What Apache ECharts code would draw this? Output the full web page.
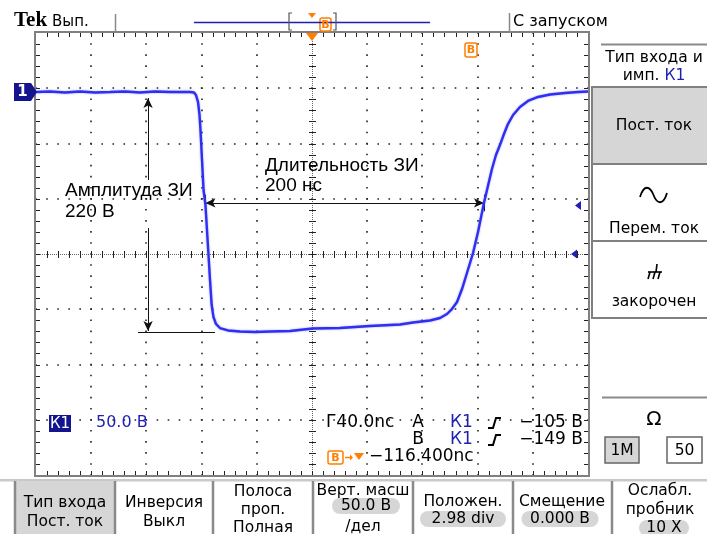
<!DOCTYPE html>
<html>
<head>
<meta charset="utf-8">
<title>Tek</title>
<script src="https://cdn.jsdelivr.net/npm/echarts@6.0.0/dist/echarts.min.js"></script>
<style>
html,body{margin:0;padding:0;background:#fff;}
#chart{width:707px;height:534px;}
</style>
</head>
<body>
<div id="chart"></div>
<script>
const timeNs = [0,10.1,21.0,31.9,42.8,53.6,64.5,75.4,86.2,97.1,105.8,111.6,114.5,115.9,117.4,118.5,119.2,120.3,121.4,122.8,123.9,125.0,126.1,127.3,128.6,130.4,133.3,139.1,147.8,158.7,169.6,184.1,200.7,220.3,242.0,263.8,273.2,285.5,292.8,297.8,301.4,305.1,308.7,312.3,316.7,320.3,324.6,327.5,330.4,333.3,336.2,339.1,342.0,345.7,350.7,356.5,363.8,372.5,383.3,392.8,400];
const volts = [-2.4,-1.9,-2.8,-1.9,-2.8,-2.4,-1.9,-2.8,-1.9,-2.4,-2.4,-2.4,-2.8,-5.1,-11.4,-23.2,-36.8,-63.9,-91.1,-104.7,-127.3,-149.9,-172.5,-195.2,-206.0,-212.3,-216.0,-218.2,-219.1,-219.6,-219.1,-218.7,-216.4,-216.0,-214.2,-212.8,-211.0,-209.2,-206.9,-203.3,-198.8,-192.4,-180.7,-166.2,-148.1,-129.1,-102.8,-87.5,-72.1,-59.4,-50.4,-40.4,-31.4,-23.2,-16.0,-10.5,-6.9,-4.7,-3.3,-2.4,-1.9];
const nsPerDiv = 40;
const voltsPerDiv = 50;
const groundPosDiv = 2.98;
const trigLevels = [-105, -149];
// annotation arrows (data units)
const durationNs = [122.8, 324.6];
const durationLevelV = -102.8;
const amplitudeAtNs = 81.2;
const amplitudeV = [-7.8, -82, -125.5, -218.7];
const amplitudeBaseNs = [73.9, 129.7];
const amplitudeBaseV = -219.6;

const NAVY = '#14148e', BLUE = '#1f1fb4', TRACE = '#2f2ff0', ORANGE = '#ff7f00';
const BTN = '#d6d6d6', BORDER = '#808080';
const UI = '"DejaVu Sans", sans-serif';

const vMin = (-4 - groundPosDiv) * voltsPerDiv;
const vMax = (4 - groundPosDiv) * voltsPerDiv;

function renderGraticule(params, api) {
  const a = api.coord([-5, 4]), b = api.coord([5, -4]);
  const L = a[0], T = a[1], R = b[0], B = b[1];
  const dx = (R - L) / 10, dy = (B - T) / 8;
  const kids = [];
  const px = v => Math.round(v) + 0.5;
  const seg = (x1, y1, x2, y2, c) => kids.push({type:'line', shape:{x1, y1, x2, y2}, style:{stroke:c, lineWidth:1}});
  const dotted = (x1, y1, x2, y2, step) => kids.push({type:'line', shape:{x1, y1, x2, y2},
    style:{stroke:'#222', lineWidth:1.6, lineDash:[1.6, step - 1.6], lineDashOffset:0.8, lineCap:'butt'}});
  for (let i = 1; i < 10; i++) { if (i === 5) continue; const x = Math.round(L + i * dx); dotted(x, T, x, B, dy / 5); }
  for (let k = 1; k < 8; k++) { if (k === 4) continue; const y = Math.round(T + k * dy); dotted(L, y, R, y, dx / 5); }
  const cx = px(L + 5 * dx), cy = px(T + 4 * dy);
  kids.push({type:'line', shape:{x1:cx, y1:T, x2:cx, y2:B}, style:{stroke:'#666', lineWidth:1, lineDash:[1, 1]}});
  kids.push({type:'line', shape:{x1:L, y1:cy, x2:R, y2:cy}, style:{stroke:'#666', lineWidth:1, lineDash:[1, 1]}});
  for (let j = 1; j < 40; j++) { const y = px(T + j * dy / 5); seg(cx - 3.5, y, cx + 3.5, y, '#222'); }
  for (let j = 1; j < 50; j++) { const x = px(L + j * dx / 5); seg(x, cy - 3.5, x, cy + 3.5, '#222'); }
  for (let j = 1; j < 50; j++) { const x = px(L + j * dx / 5); seg(x, T, x, T + 4, '#222'); seg(x, B - 4, x, B, '#222'); }
  for (let j = 1; j < 40; j++) { const y = px(T + j * dy / 5); seg(L, y, L + 4, y, '#222'); seg(R - 4, y, R, y, '#222'); }
  kids.push({type:'rect', shape:{x:L - 1, y:T - 1, width:R - L + 2, height:B - T + 2}, style:{fill:'none', stroke:BORDER, lineWidth:2}});
  return {type:'group', children:kids};
}

const chart = echarts.init(document.getElementById('chart'), null, {renderer:'canvas'});

const lineEnd = (t, v, sym) => ({coord:[t, v], symbol:sym || 'none'});
const markData = [
  [lineEnd(durationNs[0], durationLevelV, 'arrow'), lineEnd(durationNs[1], durationLevelV, 'arrow')],
  [lineEnd(durationNs[0], durationLevelV + 7.5), lineEnd(durationNs[0], durationLevelV - 7.5)],
  [lineEnd(durationNs[1], durationLevelV + 7.5), lineEnd(durationNs[1], durationLevelV - 7.5)],
  [lineEnd(amplitudeAtNs, amplitudeV[1]), lineEnd(amplitudeAtNs, amplitudeV[0], 'arrow')],
  [lineEnd(amplitudeAtNs, amplitudeV[2]), lineEnd(amplitudeAtNs, amplitudeV[3], 'arrow')],
  [lineEnd(amplitudeBaseNs[0], amplitudeBaseV), lineEnd(amplitudeBaseNs[1], amplitudeBaseV)]
];

chart.setOption({
  animation:false,
  backgroundColor:'#fff',
  grid:{left:36, top:33, width:552, height:442, show:false},
  xAxis:[
    {type:'value', gridIndex:0, min:0, max:10 * nsPerDiv, show:false},
    {type:'value', gridIndex:0, min:-5, max:5, show:false}
  ],
  yAxis:[
    {type:'value', gridIndex:0, min:vMin, max:vMax, show:false},
    {type:'value', gridIndex:0, min:-4, max:4, show:false}
  ],
  series:[
    {type:'custom', xAxisIndex:1, yAxisIndex:1, data:[[0, 0]], silent:true, z:1, renderItem:renderGraticule},
    {type:'line', xAxisIndex:0, yAxisIndex:0, z:5, silent:true, showSymbol:false, symbol:'none',
     data:timeNs.map((t, i) => [t, volts[i]]),
     lineStyle:{color:TRACE, width:2.4, shadowColor:'rgba(90,90,255,0.6)', shadowBlur:2},
     markLine:{silent:true, symbol:['none', 'none'], symbolSize:[7, 10], label:{show:false},
       lineStyle:{color:'#111', width:1, type:'solid'}, emphasis:{disabled:true}, data:markData}
    }
  ]
});

// ---------- screen furniture ----------
function T(x, y, text, o) {
  o = o || {};
  const al = o.align || 'center';
  return {type:'text', x, y, z:o.z || 50, silent:true,
    style:{text, font:o.font || ('15.5px ' + UI), fill:o.fill || '#000', textAlign:al, align:al,
      textVerticalAlign:'middle', verticalAlign:'middle', rich:o.rich}};
}
function R(x, y, w, h, fill, stroke, lw, r) {
  return {type:'rect', z:40, silent:true, shape:{x, y, width:w, height:h, r:r || 0}, style:{fill:fill || 'none', stroke:stroke || null, lineWidth:lw || 1}};
}
function Ln(x1, y1, x2, y2, c, w) {
  return {type:'line', z:45, silent:true, shape:{x1, y1, x2, y2}, style:{stroke:c, lineWidth:w || 1}};
}
function PL(points, c, w) { return {type:'polyline', z:45, silent:true, shape:{points}, style:{stroke:c, lineWidth:w || 1, fill:null}}; }
function PG(points, c) { return {type:'polygon', z:46, silent:true, shape:{points}, style:{fill:c}}; }
function bBox(x, y, w, h) {
  return [R(x, y, w, h, '#fff', ORANGE, 1.5, 2), T(x + w / 2, y + h / 2 + 0.5, 'B', {font:'bold 11px ' + UI, fill:ORANGE, z:51})];
}
function edge(x, y) { return PL([[x, y + 5], [x + 5, y + 5], [x + 8, y - 5], [x + 13, y - 5]], '#000', 2); }

const yTrig = trigLevels.map(v => chart.convertToPixel({yAxisIndex:0}, v));
const xTrig = chart.convertToPixel({xAxisIndex:1}, 0);

const g = [];
// top status line
g.push(T(14, 21, 'Tek', {font:'bold 21px "Liberation Serif"', align:'left'}));
g.push(T(52, 22, 'Вып.', {font:'15px ' + UI, align:'left'}));
g.push(Ln(115.5, 14, 115.5, 33, '#8a8a8a', 1.5));
g.push(Ln(194, 22.5, 430, 22.5, BLUE, 1.5));
g.push(PL([[292, 13], [289, 13], [289, 30], [292, 30]], '#555', 1.2));
g.push(PL([[333, 13], [336, 13], [336, 30], [333, 30]], '#555', 1.2));
g.push(PG([[xTrig - 4, 13], [xTrig + 4, 13], [xTrig, 18]], ORANGE));
g.push(...bBox(320, 18, 11, 13));
g.push(Ln(509.5, 13, 509.5, 33, '#8a8a8a', 1.5));
g.push(T(513, 22, 'С запуском', {font:'16px ' + UI, align:'left'}));
// trigger position + delay markers
g.push(PG([[xTrig - 6, 33], [xTrig + 6, 33], [xTrig, 41]], ORANGE));
g.push(...bBox(465, 43, 12, 14));
// channel 1 ground marker
g.push(PG([[14, 83], [31, 83], [37, 92], [31, 101], [14, 101]], NAVY));
g.push(T(22.5, 92.5, '1', {font:'bold 15px ' + UI, fill:'#fff', z:52}));
// trigger level markers
g.push(PG([[575, yTrig[0]], [581, yTrig[0] - 4.5], [581, yTrig[0] + 4.5]], BLUE));
g.push(PG([[571, yTrig[1]], [577, yTrig[1] - 4.5], [577, yTrig[1] + 4.5]], BLUE));
// annotations
g.push(T(265, 166, 'Длительность ЗИ', {font:'19px "Liberation Sans"', align:'left'}));
g.push(T(265, 186, '200 нс', {font:'19px "Liberation Sans"', align:'left'}));
g.push(T(65, 191, 'Амплитуда ЗИ', {font:'19px "Liberation Sans"', align:'left'}));
g.push(T(65, 212, '220 В', {font:'19px "Liberation Sans"', align:'left'}));
// readouts inside graticule
g.push(R(49, 415, 22, 17, NAVY));
g.push(T(60, 424, 'К1', {font:'15px ' + UI, fill:'#fff', z:52}));
g.push(T(96, 423, '50.0 В', {font:'16px ' + UI, fill:BLUE, align:'left'}));
g.push(T(326, 423, 'Г40.0nc', {font:'17px ' + UI, align:'left'}));
g.push(T(418, 423, 'A', {font:'17px ' + UI}));
g.push(T(450, 423, 'К1', {font:'17px ' + UI, fill:BLUE, align:'left'}));
g.push(edge(488, 423));
g.push(T(583, 423, '−105 В', {font:'17px ' + UI, align:'right'}));
g.push(T(418, 440, 'B', {font:'17px ' + UI}));
g.push(T(450, 440, 'К1', {font:'17px ' + UI, fill:BLUE, align:'left'}));
g.push(edge(488, 440));
g.push(T(583, 440, '−149 В', {font:'17px ' + UI, align:'right'}));
g.push(...bBox(328, 451, 15, 13));
g.push(Ln(345, 457.5, 352, 457.5, ORANGE, 1.5));
g.push(PG([[350, 454.5], [353, 457.5], [350, 460.5]], ORANGE));
g.push(PG([[354, 453], [364, 453], [359, 460]], ORANGE));
g.push(T(369, 457, '−116.400nc', {font:'17px ' + UI, align:'left'}));
// right side menu
g.push(Ln(601, 44.5, 707, 44.5, '#8a8a8a', 2));
g.push(T(654, 58, 'Тип входа и', {}));
g.push(T(654, 76, '{a|имп. }{b|К1}', {rich:{a:{font:'15.5px ' + UI, fill:'#000'}, b:{font:'15.5px ' + UI, fill:BLUE}}}));
g.push(R(592, 87, 118, 77, BTN, BORDER, 2));
g.push(T(654, 126, 'Пост. ток', {}));
g.push(R(592, 164, 118, 77, '#fff', BORDER, 2));
g.push({type:'bezierCurve', z:45, silent:true, shape:{x1:640, y1:197, cpx1:644, cpy1:184, cpx2:650, cpy2:186, x2:653.5, y2:195}, style:{stroke:'#000', lineWidth:1.8, fill:null}});
g.push({type:'bezierCurve', z:45, silent:true, shape:{x1:653.5, y1:195, cpx1:657, cpy1:204, cpx2:663, cpy2:206, x2:667, y2:193}, style:{stroke:'#000', lineWidth:1.8, fill:null}});
g.push(T(654, 229, 'Перем. ток', {}));
g.push(R(592, 241, 118, 77, '#fff', BORDER, 2));
g.push(Ln(648, 272, 662, 272, '#000', 1.6));
g.push(Ln(657, 264, 656, 272, '#000', 1.6));
g.push(Ln(650, 272, 648, 279, '#000', 1.6));
g.push(Ln(655, 272, 653, 279, '#000', 1.6));
g.push(Ln(660, 272, 658, 279, '#000', 1.6));
g.push(T(654, 302, 'закорочен', {}));
g.push(Ln(602, 397.5, 707, 397.5, '#8a8a8a', 2));
g.push(T(654, 420, 'Ω', {font:'20px ' + UI}));
g.push(R(605, 437, 34, 26, BTN, '#666', 1.5));
g.push(T(622, 450.5, '1M', {font:'15.5px ' + UI}));
g.push(R(667, 437, 35, 26, '#fff', '#666', 1.5));
g.push(T(684.5, 450.5, '50', {font:'15.5px ' + UI}));
// bottom menu
g.push(R(0, 479, 707, 2.5, '#c9c9c9'));
g.push(R(15, 481, 100, 53, BTN));
[15, 115, 213, 313, 413, 513, 612].forEach(x => g.push(Ln(x, 481, x, 534, '#8a8a8a', 2.5)));
function pill(cx, cy, text) {
  const w = text.length * 9 + 14;
  g.push(R(cx - w / 2, cy - 8, w, 16, BTN, null, 1, 8));
  g.push(T(cx, cy, text, {}));
}
g.push(T(65, 503, 'Тип входа', {}));
g.push(T(65, 522, 'Пост. ток', {}));
g.push(T(164, 503, 'Инверсия', {}));
g.push(T(164, 522, 'Выкл', {}));
g.push(T(263, 492, 'Полоса', {}));
g.push(T(263, 510, 'проп.', {}));
g.push(T(263, 528, 'Полная', {}));
g.push(T(363, 491, 'Верт. масш', {}));
pill(366, 506, '50.0 В');
g.push(T(363, 527, '/дел', {}));
g.push(T(463, 502, 'Положен.', {}));
pill(463, 519, '2.98 div');
g.push(T(562, 502, 'Смещение', {}));
pill(560, 519, '0.000 В');
g.push(T(660, 491, 'Ослабл.', {}));
g.push(T(660, 510, 'пробник', {}));
pill(664, 528, '10 X');

chart.setOption({graphic:{elements:g}});
</script>
</body>
</html>
